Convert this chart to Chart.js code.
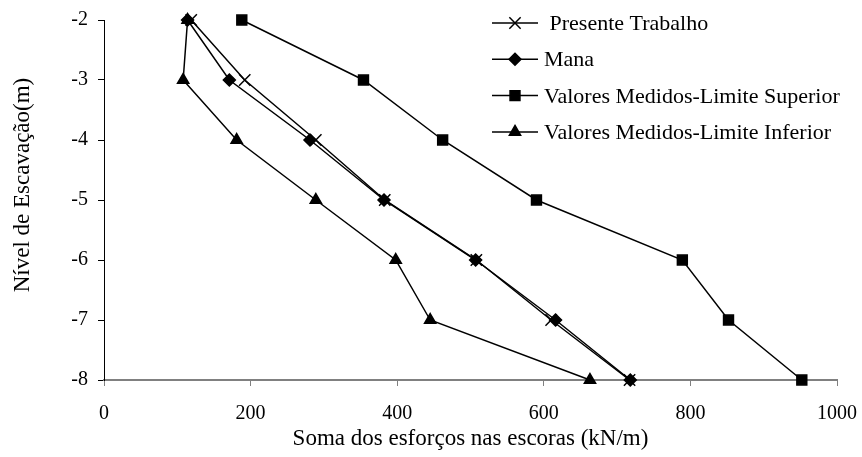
<!DOCTYPE html>
<html>
<head>
<meta charset="utf-8">
<title>Nível de Escavação x Soma dos esforços</title>
<script src="https://cdn.jsdelivr.net/npm/chart.js@4/dist/chart.umd.min.js"></script>
<style>
  html, body { margin: 0; padding: 0; background: #fff; }
  #wrap { width: 862px; height: 457px; }
</style>
</head>
<body>
<div id="wrap"><canvas id="chart" width="862" height="457"></canvas></div>
<script>
(function(window, undefined){

  // excavation levels (m)
  var niveis = [-2, -3, -4, -5, -6, -7, -8];

  // sum of strut forces (kN/m) at each level
  var presenteTrabalho = [119, 192, 289, 383, 508, 610, 717];
  var mana             = [114, 171, 281, 382, 507, 616, 718];
  var limiteSuperior   = [188, 354, 462, 590, 789, 852, 952];
  var limiteInferior   = [114, 108, 181, 289, 398, 445, 663];

  var xTicks = [0, 200, 400, 600, 800, 1000];
  var yTicks = [-8, -7, -6, -5, -4, -3, -2];

  var yTitle = 'Nível de Escavação(m)';
  var xTitle = 'Soma dos esforços nas escoras (kN/m)';

  var serif = '"Liberation Serif", "Times New Roman", serif';

  function toPoints (values) {
    var pts = [];
    for (var i = 0; i < values.length; i++) {
      pts.push({ x: values[i], y: niveis[i] });
    }
    return pts;
  }

  function serie (label, values, style, radius) {
    return {
      label: label,
      data: toPoints(values),
      borderColor: '#000',
      borderWidth: 1.5,
      backgroundColor: '#000',
      pointStyle: style,
      pointRadius: radius,
      pointHoverRadius: radius,
      pointBackgroundColor: '#000',
      pointBorderColor: '#000',
      pointBorderWidth: 1.5,
      tension: 0,
      fill: false,
      clip: false
    };
  }

  // legend inside the plot (top right) and the vertical axis title
  var extras = {
    id: 'extras',
    afterDraw: function (chart) {
      var ctx = chart.ctx;
      var x0 = 492, x1 = 538, textX = 544, y = 23, step = 36.3;
      ctx.save();
      ctx.font = '22px ' + serif;
      ctx.fillStyle = '#000';
      ctx.strokeStyle = '#000';
      chart.data.datasets.forEach(function (ds, i) {
        var cy = y + i * step;
        ctx.lineWidth = 1.5;
        ctx.beginPath();
        ctx.moveTo(x0, cy);
        ctx.lineTo(x1, cy);
        ctx.stroke();
        Chart.helpers.drawPoint(ctx, {
          pointStyle: ds.pointStyle,
          radius: ds.pointRadius,
          rotation: 0,
          borderWidth: ds.pointBorderWidth
        }, (x0 + x1) / 2, cy);
        ctx.textAlign = 'left';
        ctx.textBaseline = 'alphabetic';
        ctx.fillText(ds.label, textX, cy + 7);
      });

      ctx.font = '23px ' + serif;
      ctx.translate(23, 185);
      ctx.rotate(-Math.PI / 2);
      ctx.textAlign = 'center';
      ctx.textBaseline = 'middle';
      ctx.fillText(yTitle, 0, 0);
      ctx.restore();
    }
  };

  var data = {
    datasets: [
      serie(' Presente Trabalho', presenteTrabalho, 'crossRot', 8),
      serie('Mana', mana, 'rectRot', 6),
      serie('Valores Medidos-Limite Superior', limiteSuperior, 'rect', 7),
      serie('Valores Medidos-Limite Inferior', limiteInferior, 'triangle', 6.5)
    ]
  };

  var options = {
    responsive: false,
    animation: false,
    layout: { padding: { top: 20, right: 25, left: 0, bottom: 0 } },
    plugins: {
      legend: { display: false },
      tooltip: { enabled: false }
    },
    scales: {
      x: {
        type: 'linear',
        min: 0,
        max: 1000,
        afterFit: function (scale) {
          scale.height = 77;
          scale.paddingLeft = 0;
          scale.paddingRight = 0;
        },
        afterBuildTicks: function (scale) {
          scale.ticks = xTicks.map(function (v) { return { value: v }; });
        },
        border: { color: '#808080', width: 2 },
        grid: { drawOnChartArea: false, color: '#808080', tickLength: 6, tickWidth: 1 },
        ticks: {
          color: '#000',
          font: { family: serif, size: 20 },
          padding: 16,
          maxRotation: 0,
          callback: function (v) { return String(v); }
        },
        title: {
          display: true,
          text: xTitle,
          color: '#000',
          font: { family: serif, size: 23 },
          padding: { top: 0, bottom: 4 }
        }
      },
      y: {
        type: 'linear',
        min: -8,
        max: -2,
        afterFit: function (scale) {
          scale.width = 104;
          scale.paddingTop = 0;
          scale.paddingBottom = 0;
        },
        afterBuildTicks: function (scale) {
          scale.ticks = yTicks.map(function (v) { return { value: v }; });
        },
        border: { color: '#000', width: 1 },
        grid: { drawOnChartArea: false, color: '#000', tickLength: 6 },
        ticks: {
          color: '#000',
          font: { family: serif, size: 20 },
          padding: 10,
          callback: function (v) { return String(v); }
        }
      }
    }
  };

  new Chart(document.getElementById('chart'), {
    type: 'line',
    data: data,
    options: options,
    plugins: [extras]
  });

})(window);
</script>
</body>
</html>
